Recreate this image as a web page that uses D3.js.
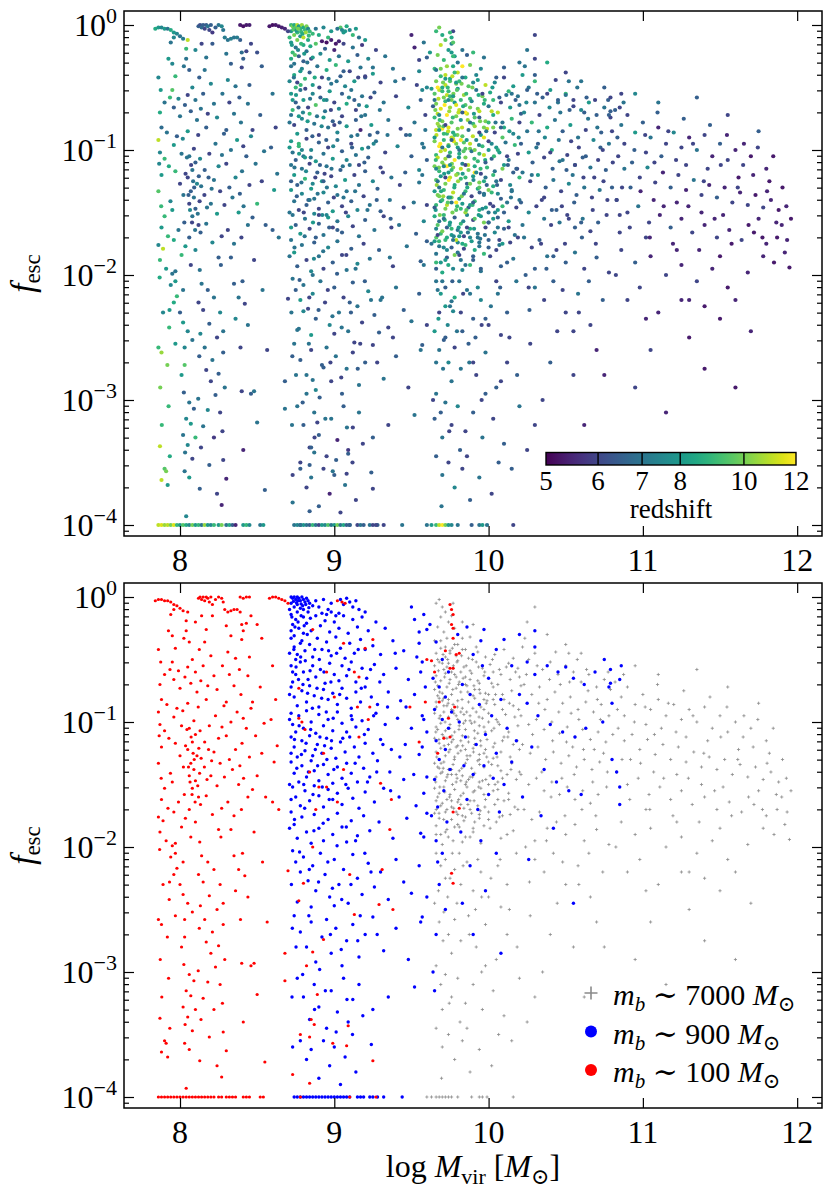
<!DOCTYPE html>
<html>
<head>
<meta charset="utf-8">
<script src="https://cdn.jsdelivr.net/npm/d3@7"></script>
<style>
  body { margin: 0; background: #fff; }
  svg text { font-family: "Liberation Serif", "DejaVu Serif", serif; fill: #000; }
</style>
</head>
<body>
<div id="chart"></div>
<script>
// Halo points: [log Mvir, log10 fesc, redshift]

// m_b ~ 100 Msun (red)
const highRes = [
  [7.84,-0.03,8.5],[7.86,-0.02,8],[7.88,-0.02,7.5],[7.9,-0.03,8],[7.92,-0.03,7],[7.94,-0.04,8.5],[7.96,-0.06,8],[7.98,-0.07,7.5],[8.0,-0.09,7],[8.02,-0.11,7.2],[7.96,-0.1,7.5],[8.05,-0.12,11],[8.04,-0.19,9],
  [8.12,-0.01,6.5],[8.13,0.0,6.2],[8.14,-0.02,6.8],[8.15,0.0,6.5],[8.16,-0.03,6],[8.17,0.0,6.4],[8.18,-0.01,7],[8.19,-0.04,6],[8.2,0.0,6.5],[8.21,-0.06,5.8],[8.23,-0.02,6.5],[8.25,0.0,7],[8.27,-0.01,7.5],[8.28,-0.04,7],
  [8.29,-0.1,7.2],[8.31,-0.12,7],[8.33,-0.11,7.3],[8.35,-0.1,7],[8.37,-0.1,7.2],[8.39,-0.12,6.5],
  [8.39,0.0,5.3],[8.41,-0.01,5.2],[8.43,0.0,5.3],[8.45,0.0,5.4],
  [8.58,-0.01,5.3],[8.6,0.0,5.2],[8.62,0.0,5.3],[8.64,-0.01,5.3],[8.66,-0.02,5.4],[8.68,-0.03,5.5],[8.7,-0.05,6],
  [8.46,-0.15,6],[8.5,-0.22,6.2],[8.53,-0.33,6.5],[8.4,-0.22,6.8],[8.41,-0.27,6.5],[8.4,-0.34,6],[8.21,-0.15,6.4],[8.1,-0.2,7.5],[8.17,-0.26,7],[7.94,-0.14,7],
  [7.86,-0.42,7.5],[7.87,-0.7,8.5],[7.9,-0.62,7],[7.88,-0.82,6.8],[7.86,-0.92,11],[7.87,-1.02,7.5],[7.9,-1.07,9],[7.88,-1.2,8],[7.86,-1.33,9.5],[7.9,-1.53,9],[7.88,-1.62,8],[7.86,-1.76,7.5],[7.89,-1.79,11],[7.87,-1.88,9],[7.91,-1.95,8],
  [7.95,-0.31,7.5],[7.97,-0.41,9],[7.95,-0.52,9.5],[7.99,-0.59,7.5],[7.96,-0.66,6.5],[8.0,-0.73,7],[7.98,-0.89,6.5],[7.96,-0.96,8],[8.01,-1.03,7],[7.97,-1.17,9],[8.0,-1.27,6],[7.95,-1.48,8],[7.99,-1.64,7],[7.96,-1.72,8.5],[8.01,-1.84,9],[7.97,-1.97,7],
  [8.04,-0.27,7],[8.06,-0.36,6.5],[8.08,-0.5,7.5],[8.05,-0.56,6],[8.1,-0.6,7],[8.07,-0.69,6.5],[8.11,-0.76,7],[8.05,-0.85,8],[8.09,-0.99,6],[8.06,-1.05,7],[8.1,-1.1,6.5],[8.08,-1.16,7],[8.05,-1.22,6],[8.11,-1.27,7.5],[8.07,-1.33,6.5],[8.09,-1.38,7],[8.06,-1.43,6],[8.1,-1.47,6.5],[8.08,-1.53,7],[8.12,-1.6,6],[8.06,-1.7,6.5],[8.1,-1.8,7.5],[8.07,-1.92,6],
  [8.14,-0.15,6],[8.16,-0.36,7],[8.2,-0.47,7.5],[8.15,-0.55,6.5],[8.22,-0.63,7],[8.18,-0.71,6],[8.24,-0.74,7.5],[8.17,-0.82,6.5],[8.23,-0.95,7],[8.19,-1.03,6],[8.25,-1.13,7.5],[8.16,-1.16,6.5],[8.22,-1.24,7],[8.26,-1.33,6],[8.2,-1.43,7],[8.24,-1.51,8],[8.17,-1.59,7],[8.27,-1.69,6],[8.21,-1.74,7.5],[8.25,-1.86,6.5],
  [8.3,-0.23,7],[8.33,-0.31,6.5],[8.31,-0.44,7.5],[8.36,-0.49,7],[8.32,-0.62,6],[8.35,-0.71,7],[8.3,-0.84,6.5],[8.37,-0.92,8],[8.33,-1.0,7],[8.3,-1.11,6],[8.36,-1.22,7.5],[8.32,-1.3,6.5],[8.34,-1.38,7],[8.38,-1.5,8],[8.31,-1.64,6],[8.35,-1.75,7],[8.33,-1.86,6.5],
  [8.43,-0.21,6],[8.45,-0.48,6.5],[8.44,-0.63,7],[8.47,-0.84,6],[8.46,-0.89,7.5],[8.43,-1.05,6.5],[8.49,-1.11,7],[8.45,-1.28,6],[8.5,-1.43,9],[8.47,-1.54,6.5],[8.44,-1.6,7],[8.48,-1.88,6],
  [8.6,-0.55,7],[8.62,-0.82,6],[8.59,-0.98,6.5],[8.63,-1.19,7],[8.61,-1.32,8],[8.6,-1.64,6.5],[8.64,-1.7,7],
  [7.89,-2.3,7.5],[7.86,-2.58,9],[7.88,-2.62,10.5],[7.87,-3.37,11],[7.9,-3.55,9.5],[7.91,-3.57,10],[7.88,-3.64,11],[7.92,-3.68,8],
  [7.95,-1.99,7],[7.97,-2.05,8],[7.94,-2.08,7.5],[7.98,-2.17,9],[7.96,-2.22,8.5],[7.93,-2.42,9],[7.97,-2.55,8],
  [8.0,-2.3,6.5],[8.02,-2.38,8],[8.05,-2.45,7.5],[8.08,-2.52,7],[8.03,-2.72,9.5],[8.01,-2.8,8],[8.06,-3.02,7],[8.09,-3.07,6.5],[8.04,-3.15,7.5],[8.07,-3.19,8],[8.02,-3.28,7],[8.1,-3.3,9],[8.05,-3.36,7.5],[8.08,-3.47,6],[8.03,-3.57,7],[8.06,-3.62,8],[8.04,-3.93,7.5],
  [8.14,-2.07,7],[8.18,-2.12,6.5],[8.22,-2.18,7],[8.15,-2.28,6],[8.26,-2.3,7.5],[8.19,-2.39,6.5],[8.24,-2.5,6],[8.16,-2.58,7],[8.28,-2.62,6.5],[8.21,-2.68,7],[8.17,-2.76,6],[8.25,-2.79,6.5],[8.2,-2.85,6],[8.29,-2.9,7],[8.23,-2.96,6.5],[8.18,-3.08,7.5],[8.26,-3.1,6],[8.15,-3.21,7],[8.22,-3.3,5.8],[8.28,-3.48,6],[8.19,-3.52,6.5],[8.3,-3.63,5.5],[8.24,-3.75,6],[8.27,-3.84,5.5],
  [8.35,-2.07,6.5],[8.38,-2.18,7],[8.42,-2.23,6],[8.36,-2.35,7.5],[8.44,-2.4,7],[8.4,-2.93,6],[8.46,-2.95,6.5],[8.5,-3.18,7],[8.55,-3.72,6.5],[8.48,-2.93,7],[8.68,-2.85,6.5],[8.68,-3.07,7],[8.7,-2.19,6],
  [7.925,-0.27,8],[7.935,-0.58,9],[7.915,-0.86,7],[7.928,-1.13,8.5],[7.938,-1.41,7.5],[7.922,-1.69,9],[7.932,-2.28,8],[7.918,-2.72,10],[7.926,-3.05,9],[7.934,-3.45,8.5],
  [8.025,-0.33,7],[8.032,-0.64,6.5],[8.018,-0.91,7.5],[8.036,-1.19,6],[8.022,-1.36,7],[8.028,-1.58,6.5],[8.035,-1.77,8],[8.02,-2.12,7],[8.03,-2.58,7.5],[8.025,-2.94,6.5],[8.033,-3.42,7],
  [8.125,-0.42,6.5],[8.135,-0.67,7],[8.118,-0.88,6],[8.13,-1.07,7.5],[8.122,-1.21,6.5],[8.137,-1.29,7],[8.127,-1.41,6],[8.115,-1.51,7],[8.133,-1.66,6.5],[8.128,-1.96,7],[8.12,-2.22,6],[8.132,-2.47,7.5],[8.125,-2.65,6.5],[8.118,-2.99,7],[8.136,-3.38,6],[8.128,-3.71,6.5],
  [8.072,-1.12,6],[8.085,-1.25,7],[8.092,-1.3,6.5],[8.065,-1.48,7.5],[8.078,-1.58,6],[8.098,-1.64,7],[8.055,-1.36,6.5],[8.045,-1.06,7],[8.158,-1.36,6],[8.175,-1.46,7],[8.185,-1.22,6.5],[8.205,-1.31,7],
  [8.275,-0.55,7],[8.285,-0.87,6.5],[8.272,-1.04,7],[8.288,-1.44,6],[8.265,-1.92,6.5],[8.28,-2.45,7],[8.275,-3.25,6],
  [8.385,-0.58,6.5],[8.395,-0.78,7],[8.41,-0.97,6],[8.402,-1.17,7],[8.388,-1.35,6.5],[8.412,-1.45,7],[8.398,-1.7,6],[8.405,-2.05,6.5],[8.392,-2.58,6],[8.41,-3.4,5.5],
  [8.52,-0.72,6.5],[8.545,-1.01,7],[8.53,-1.25,6],[8.555,-1.6,6.5],[8.535,-2.12,7],[8.565,-2.6,6],
  [7.875,-0.52,8],[7.865,-1.11,7.5],[7.878,-1.45,9],[7.868,-2.02,8.5],[7.872,-2.9,10],[7.882,-3.2,9],
  [7.86,-4,11],[7.88,-4,11.5],[7.9,-4,10.5],[7.92,-4,11],[7.94,-4,10],[7.96,-4,11.5],[7.98,-4,9],[8.0,-4,8],[8.02,-4,9.5],[8.04,-4,8.5],[8.06,-4,7.5],[8.08,-4,10],[8.1,-4,8],[8.12,-4,9],[8.14,-4,7],[8.16,-4,10.5],[8.18,-4,8],[8.2,-4,7.5],[8.22,-4,9],[8.25,-4,8],[8.27,-4,10],[8.3,-4,7],[8.32,-4,8.5],[8.34,-4,6.5],[8.36,-4,5.5],[8.41,-4,8],[8.43,-4,9],[8.45,-4,7.5],[8.52,-4,7],[8.54,-4,8],
  [8.86,-0.26,8],[9.02,-0.03,7],[9.05,-0.04,7.5],[9.07,-0.05,8],[9.06,-0.37,6.5],[9.25,-0.34,7],[9.2,-0.41,6],[8.95,-0.6,7.5],[9.13,-0.6,6.5],[9.16,-0.64,7],[8.77,-0.73,8],[9.0,-0.8,6],[9.15,-0.88,7],[9.23,-0.88,6.5],[8.77,-0.97,9],[8.79,-1.0,7.5],[8.81,-1.06,8],[8.93,-1.25,6.5],[8.84,-1.4,7],[8.9,-1.52,6],[8.95,-1.52,7.5],[9.02,-1.64,6.5],[9.06,-1.38,7],[9.16,-1.12,6],[9.22,-0.98,7],[9.3,-1.49,6.5],[9.37,-1.62,6],[9.36,-1.86,7],[8.88,-1.7,6.5],[9.49,-0.88,7],
  [8.86,-2.0,7],[9.1,-2.22,6.5],[8.8,-2.29,7.5],[8.77,-2.43,7],[9.13,-2.54,6],[9.29,-2.46,6.5],[9.31,-2.18,7],[9.38,-2.5,6],[8.86,-2.84,7],[8.93,-2.74,6.5],[8.82,-2.95,7],[8.89,-3.18,6],[8.85,-3.38,6.5],[8.87,-3.42,7],[8.78,-3.5,6],[8.84,-3.52,6.5],[8.99,-3.57,7],[9.08,-3.59,6],[9.09,-3.43,6.5],[9.25,-3.71,6],[8.73,-3.82,7],[8.84,-3.89,6.5],[8.78,-4,7],[9.1,-4,6.5],[9.27,-4,6],
  [9.75,-0.06,9],[9.76,-0.1,8.5],[9.77,-0.14,9.5],[9.76,-0.22,8],[9.77,-0.25,9],[9.77,-0.33,8.5],[9.79,-0.46,8],[9.81,-0.45,9],[9.72,-0.43,8],[9.6,-0.5,7.5],[9.63,-0.51,8],[9.65,-0.6,7],[9.75,-0.57,9],[9.77,-0.57,8],[9.59,-0.84,7],[9.68,-0.84,8],[9.78,-0.88,9],[9.74,-0.97,8],[9.71,-1.13,7.5],[9.75,-1.12,8],[9.67,-1.25,7],[9.55,-1.16,7.5],[9.77,-1.72,7],[9.81,-1.69,8],[9.76,-2.21,7],[9.77,-2.29,7.5]
];

// m_b ~ 900 Msun (blue)
const midRes = [
  [8.72,0.0,9],[8.73,-0.01,10],[8.74,0.0,8.5],[8.75,-0.02,9.5],[8.76,0.0,11],[8.77,-0.01,8],[8.78,-0.03,9],[8.79,0.0,10.5],[8.8,-0.02,8.5],[8.81,-0.04,9],[8.82,-0.01,10],[8.83,-0.03,7.5],[8.84,-0.05,9],[8.72,-0.05,8],[8.74,-0.08,10],[8.76,-0.06,9],[8.78,-0.09,8],[8.8,-0.1,11],[8.83,-0.12,8.5],[8.86,-0.07,9],[8.88,-0.03,7],[8.9,-0.08,8.5],[8.93,-0.02,7.5],[8.96,-0.1,9],[8.98,-0.05,8],[9.04,-0.02,9.5],[9.06,-0.06,8],[9.08,-0.01,8.5],[9.1,-0.04,7.5],[9.12,-0.08,9],[9.14,-0.03,8],[9.16,-0.1,7],[9.2,-0.12,8],
  [8.92,-0.13,5.3],[8.95,-0.14,5.2],[8.98,-0.12,5.4],[9.01,-0.15,5.3],[9.03,-0.13,5.5],
  [8.71,-0.1,9],[8.72,-0.27,8.5],[8.74,-0.31,7],[8.76,-0.12,10],[8.78,-0.37,8],[8.8,-0.29,6.5],[8.71,-0.45,7.5],[8.73,-0.6,8],[8.75,-0.5,9],[8.71,-0.78,7],[8.71,-0.98,8],[8.72,-1.25,6.5],[8.71,-1.5,7],[8.72,-1.62,8],[8.71,-1.85,7],
  [8.72,-0.14,8],[8.75,-0.18,7],[8.73,-0.22,9],[8.77,-0.25,6.5],[8.8,-0.16,8.5],[8.82,-0.21,7],[8.85,-0.27,6],[8.88,-0.15,9.5],[8.91,-0.23,7.5],[8.94,-0.19,6.5],[8.97,-0.28,8],[9.0,-0.2,5.5],[9.03,-0.25,7],[9.06,-0.15,6],[9.09,-0.29,8],[9.12,-0.18,7],[9.15,-0.24,6.5],[9.18,-0.16,5.8],[9.22,-0.27,7.5],[9.27,-0.2,6],[9.33,-0.25,7],[9.5,-0.08,5.5],[9.52,-0.18,5.5],[9.55,-0.28,6],
  [8.72,-0.33,7],[8.74,-0.4,8.5],[8.76,-0.46,6],[8.79,-0.35,7.5],[8.81,-0.43,9],[8.84,-0.38,6.5],[8.86,-0.48,8],[8.89,-0.33,7],[8.92,-0.42,6],[8.95,-0.36,8.5],[8.98,-0.47,7],[9.01,-0.32,9],[9.04,-0.41,6.5],[9.07,-0.49,7.5],[9.1,-0.37,6],[9.13,-0.45,8],[9.17,-0.34,7],[9.2,-0.42,6.5],[9.25,-0.39,8],[9.3,-0.46,6],[9.38,-0.35,7],[9.45,-0.43,6.5],[9.55,-0.37,7.5],
  [8.72,-0.55,8],[8.75,-0.62,6.5],[8.73,-0.68,9],[8.78,-0.52,7],[8.8,-0.6,8],[8.83,-0.66,6],[8.86,-0.55,7.5],[8.88,-0.64,9.5],[8.91,-0.58,6.5],[8.94,-0.69,7],[8.97,-0.53,8],[9.0,-0.62,6],[9.03,-0.67,7.5],[9.05,-0.55,6.5],[9.08,-0.63,8.5],[9.11,-0.52,7],[9.14,-0.68,6],[9.18,-0.57,7],[9.21,-0.65,8],[9.26,-0.54,6.5],[9.32,-0.62,7],[9.4,-0.57,6],[9.48,-0.66,7.5],[9.56,-0.6,6.5],
  [8.72,-0.72,7],[8.74,-0.8,6],[8.76,-0.87,8],[8.79,-0.75,7.5],[8.82,-0.84,6.5],[8.84,-0.71,9],[8.87,-0.79,7],[8.9,-0.88,6],[8.93,-0.74,8],[8.96,-0.82,7],[8.99,-0.77,6.5],[9.02,-0.86,7.5],[9.05,-0.73,6],[9.08,-0.81,8],[9.11,-0.89,7],[9.14,-0.76,6.5],[9.17,-0.84,5.5],[9.2,-0.72,7],[9.24,-0.8,8],[9.28,-0.86,6.5],[9.35,-0.76,7],[9.43,-0.83,6],[9.52,-0.78,7],
  [8.72,-0.93,8],[8.73,-1.02,7],[8.75,-1.08,6.5],[8.77,-0.95,9],[8.8,-1.05,7],[8.82,-0.91,6],[8.85,-1.0,7.5],[8.88,-1.09,8],[8.9,-0.94,6.5],[8.93,-1.03,7],[8.96,-0.98,6],[8.99,-1.07,8],[9.02,-0.92,7],[9.05,-1.01,6.5],[9.08,-1.08,7.5],[9.11,-0.95,6],[9.14,-1.04,7],[9.18,-0.99,8],[9.22,-1.06,6.5],[9.27,-0.93,7],[9.33,-1.02,6],[9.41,-0.97,7.5],[9.5,-1.05,6.5],[9.57,-0.95,7],
  [8.72,-1.12,7],[8.74,-1.2,8],[8.76,-1.28,6.5],[8.79,-1.15,7],[8.81,-1.23,9],[8.84,-1.11,6],[8.86,-1.27,7.5],[8.89,-1.18,6.5],[8.92,-1.25,8],[8.95,-1.13,7],[8.98,-1.21,6],[9.01,-1.29,7.5],[9.04,-1.16,6.5],[9.07,-1.24,8],[9.1,-1.12,7],[9.13,-1.2,6],[9.16,-1.28,7],[9.2,-1.17,6.5],[9.25,-1.25,7.5],[9.3,-1.14,6],[9.37,-1.22,7],[9.46,-1.18,6.5],[9.55,-1.26,7],
  [8.72,-1.32,8],[8.74,-1.41,7],[8.77,-1.48,6],[8.79,-1.35,7.5],[8.82,-1.44,6.5],[8.85,-1.31,8],[8.87,-1.39,7],[8.9,-1.47,6],[8.93,-1.34,7.5],[8.96,-1.42,6.5],[8.99,-1.49,8],[9.02,-1.36,7],[9.05,-1.45,6],[9.08,-1.33,7],[9.11,-1.41,6.5],[9.15,-1.48,7.5],[9.19,-1.37,6],[9.23,-1.44,7],[9.28,-1.31,6.5],[9.36,-1.4,7],[9.45,-1.46,6],
  [8.73,-1.52,7],[8.75,-1.6,6.5],[8.78,-1.67,8],[8.81,-1.55,7],[8.84,-1.63,6],[8.87,-1.51,7.5],[8.9,-1.59,6.5],[8.93,-1.68,7],[8.96,-1.54,8],[8.99,-1.62,6],[9.02,-1.57,7],[9.05,-1.66,6.5],[9.09,-1.53,7.5],[9.12,-1.61,6],[9.16,-1.69,7],[9.2,-1.56,6.5],[9.26,-1.64,7],[9.32,-1.53,6],[9.42,-1.6,7],[9.53,-1.67,6.5],
  [8.72,-1.72,7],[8.74,-1.82,8],[8.76,-1.93,6.5],[8.79,-1.76,7],[8.82,-1.88,6],[8.85,-1.97,7.5],[8.87,-1.74,6.5],[8.9,-1.85,7],[8.93,-1.95,6],[8.96,-1.78,7.5],[8.99,-1.9,6.5],[9.02,-1.73,7],[9.05,-1.84,6],[9.08,-1.96,7],[9.11,-1.79,6.5],[9.15,-1.91,7.5],[9.19,-1.75,6],[9.23,-1.87,7],[9.29,-1.8,6.5],[9.38,-1.93,6],[9.47,-1.77,7],[9.56,-1.89,6.5],
  [8.73,-2.03,7],[8.75,-2.12,6.5],[8.78,-2.2,8],[8.8,-2.08,7],[8.83,-2.27,6],[8.86,-2.15,7.5],[8.88,-2.35,6.5],[8.91,-2.05,7],[8.94,-2.22,6],[8.97,-2.4,7.5],[9.0,-2.1,6.5],[9.03,-2.3,7],[9.06,-2.18,6],[9.09,-2.45,7],[9.12,-2.06,6.5],[9.15,-2.25,7],[9.18,-2.38,6],[9.22,-2.13,7.5],[9.26,-2.32,6.5],[9.3,-2.2,7],[9.35,-2.42,6],[9.4,-2.1,7],[9.45,-2.28,6.5],[9.5,-2.37,7],[9.55,-2.15,6.5],[8.76,-2.44,7],[8.85,-2.48,8],[9.0,-2.47,6],
  [8.74,-2.55,7],[8.78,-2.68,6.5],[8.82,-2.8,7],[8.85,-2.6,6],[8.88,-2.92,7.5],[8.92,-2.72,6.5],[8.95,-2.58,7],[8.98,-2.85,6],[9.01,-2.65,7],[9.05,-2.95,6.5],[9.08,-2.75,7],[9.12,-2.62,6],[9.16,-2.88,7],[9.2,-2.7,6.5],[9.25,-2.56,6],[9.32,-2.83,7],[9.4,-2.65,6.5],[9.48,-2.9,6],[9.56,-2.6,7],
  [8.76,-3.05,7],[8.8,-3.2,6.5],[8.84,-3.38,6],[8.87,-3.1,7],[8.9,-3.28,6.5],[8.95,-3.45,6],[8.98,-3.15,7],[9.02,-3.32,5.5],[9.06,-3.05,6.5],[9.09,-3.4,5.8],[9.12,-3.22,6],[9.16,-3.1,7],[9.25,-3.3,6.5],[9.35,-3.2,6],[9.52,-3.12,7],
  [8.78,-3.55,6.5],[8.82,-3.7,6],[8.85,-3.62,7],[8.9,-3.85,6.5],[8.93,-3.55,6],[8.97,-3.75,5.5],[9.0,-3.6,6.5],[9.04,-3.9,6],[9.07,-3.68,7],[9.14,-3.8,6],[9.24,-3.58,6.5],
  [8.735,-0.035,9.5],[8.755,-0.045,8],[8.765,-0.03,10],[8.785,-0.055,9],[8.795,-0.07,8.5],[8.815,-0.06,10.5],[8.835,-0.085,9],[8.725,-0.16,8],[8.745,-0.24,9.5],[8.765,-0.2,7.5],[8.785,-0.15,9],[8.805,-0.23,8],[8.825,-0.3,7],[8.845,-0.17,8.5],
  [8.738,-0.42,7],[8.752,-0.56,8],[8.768,-0.66,6.5],[8.782,-0.48,9],[8.797,-0.7,7.5],[8.812,-0.51,6],[8.827,-0.77,8],[8.843,-0.59,7],[8.858,-0.89,6.5],[8.873,-0.42,8.5],[8.888,-0.73,7],[8.903,-0.5,6],[8.918,-0.81,7.5],[8.933,-0.6,8],[8.948,-0.92,6.5],[8.963,-0.43,7],[8.978,-0.68,6],[8.993,-0.97,7.5],
  [8.742,-1.14,7],[8.757,-1.37,6.5],[8.772,-1.03,8],[8.787,-1.26,7],[8.802,-1.5,6],[8.817,-1.17,7.5],[8.832,-1.4,6.5],[8.847,-1.06,7],[8.862,-1.58,8],[8.877,-1.22,6],[8.892,-1.35,7],[8.907,-1.12,6.5],[8.922,-1.52,7.5],[8.937,-1.19,6],[8.952,-1.3,7],[8.967,-1.62,6.5],[8.982,-1.15,7],[8.997,-1.38,6],
  [9.015,-0.45,7],[9.035,-0.78,6.5],[9.055,-1.13,7],[9.075,-1.5,6],[9.095,-0.58,7.5],[9.115,-0.98,6.5],[9.135,-1.33,7],[9.155,-0.42,6],[9.175,-0.73,7],[9.195,-1.1,6.5],[9.215,-1.48,7],[9.235,-0.58,6],[9.255,-0.95,7.5],[9.275,-1.4,6.5],[9.295,-0.68,7],[9.315,-1.18,6],[9.345,-0.88,7],[9.365,-1.55,6.5],[9.395,-0.45,7],[9.425,-1.28,6],[9.465,-0.88,6.5],[9.515,-1.42,7],[9.535,-0.48,6],
  [8.742,-1.78,7],[8.775,-2.04,6.5],[8.808,-1.69,7],[8.838,-2.18,6],[8.868,-1.87,7.5],[8.898,-2.28,6.5],[8.928,-1.81,7],[8.958,-2.12,6],[8.988,-2.33,7],[9.018,-1.99,6.5],[9.048,-2.42,7],[9.078,-1.84,6],[9.108,-2.3,6.5],[9.138,-1.95,7],[9.168,-2.55,6],[9.198,-2.05,6.5],[9.238,-2.2,7],[9.278,-2.7,6],
  [8.752,-2.8,7],[8.795,-3.02,6.5],[8.835,-2.55,7],[8.872,-3.3,6],[8.905,-2.98,6.5],[8.942,-3.15,7],[8.975,-2.7,6],[9.012,-3.48,6.5],[9.045,-2.82,6],[9.082,-3.22,7],[9.118,-3.5,6],[9.152,-2.75,6.5],[9.185,-3.35,6],
  [8.722,-2.3,7],[8.728,-2.65,6.5],[8.726,-3.2,7],[8.73,-3.6,6],
  [8.74,-4,7],[8.76,-4,7.5],[8.78,-4,6.5],[8.8,-4,8],[8.82,-4,7],[8.84,-4,6.5],[8.86,-4,9],[8.88,-4,7],[8.9,-4,6],[8.92,-4,8],[8.94,-4,7.5],[8.96,-4,9.5],[8.98,-4,7],[9.0,-4,8],[9.02,-4,10],[9.04,-4,7],[9.06,-4,8.5],[9.08,-4,6.5],[9.1,-4,7],[9.15,-4,6],[9.17,-4,7],[9.19,-4,6.5],[9.23,-4,7],[9.25,-4,6],[9.28,-4,6.5],[9.32,-4,6],[9.44,-4,7],
  [9.58,-0.14,7],[9.6,-0.26,6.5],[9.57,-0.52,7.5],[9.59,-0.72,6],[9.58,-0.98,7],[9.6,-1.08,6.5],[9.57,-1.2,7],[9.6,-1.44,6],[9.58,-1.57,7.5],[9.6,-1.73,6.5],[9.58,-1.92,7],[9.6,-2.4,6],[9.57,-2.56,6.5],
  [9.62,-0.22,8],[9.66,-0.36,7],[9.7,-0.5,8.5],[9.64,-0.65,6.5],[9.68,-0.72,7.5],[9.72,-0.8,6],[9.65,-0.9,8],[9.7,-0.98,7],[9.74,-1.05,6.5],[9.66,-1.15,7.5],[9.72,-1.22,6],[9.68,-1.3,7],[9.75,-1.38,8],[9.65,-1.46,6.5],[9.71,-1.55,7],[9.67,-1.68,6],[9.73,-1.8,7.5],[9.66,-1.95,6.5],[9.7,-2.05,7],[9.68,-2.3,6],[9.72,-2.5,6.5],[9.66,-2.7,7],[9.64,-3.0,6],[9.65,-3.15,6.5],[9.67,-2.12,7],[9.74,-0.6,7.5],[9.76,-0.92,6.5],[9.63,-1.75,7],
  [9.8,-0.3,7],[9.86,-0.24,6.5],[9.9,-0.46,7.5],[9.96,-0.55,6],[10.0,-0.65,7],[9.83,-0.7,6.5],[9.88,-0.78,7],[9.94,-0.86,6],[10.02,-0.95,7.5],[10.08,-0.82,6.5],[9.81,-1.0,7],[9.85,-1.12,6],[9.92,-1.18,7.5],[9.98,-1.1,6.5],[10.05,-1.25,7],[10.12,-1.05,6],[9.84,-1.35,7],[9.9,-1.42,6.5],[9.97,-1.35,7],[10.03,-1.45,6],[10.1,-1.5,6.5],[10.15,-1.32,7],[9.86,-1.62,6],[9.93,-1.7,7],[10.0,-1.58,6.5],[10.07,-1.72,6],[9.82,-1.88,7],[9.95,-1.95,6.5],[10.05,-2.05,6],[9.88,-2.15,7],[9.83,-2.45,6.5],[9.9,-2.7,6],[9.98,-2.35,6.5],[10.08,-2.85,6],[10.15,-0.55,7],[10.18,-1.15,6.5],[10.2,-0.78,6],[9.95,-0.35,7.5],[10.05,-0.42,6.5],[10.3,-0.27,6],[9.97,-0.26,7],[10.1,-0.34,6.5],
  [10.25,-0.52,6.5],[10.3,-0.62,7],[10.38,-0.55,6],[10.45,-0.6,6.5],[10.5,-0.56,7],[10.55,-0.65,6],[10.62,-0.7,6.5],[10.69,-0.6,6],[10.78,-0.72,6.5],[10.8,-0.85,6],[10.25,-0.85,7],[10.32,-0.95,6.5],[10.4,-1.02,6],[10.48,-1.08,7],[10.56,-1.12,6],[10.63,-1.05,6.5],[10.74,-1.0,6],[10.8,-1.3,6.5],[10.85,-1.52,6],[10.83,-1.4,6],[10.28,-1.2,7],[10.36,-1.38,6],[10.44,-1.48,6.5],[10.52,-1.55,6],[10.6,-1.58,6.5],[10.34,-1.75,6],[10.42,-1.85,6.5],[10.22,-1.6,7],[10.26,-2.1,6],[10.55,-2.45,6],[10.3,-0.4,6.5],[10.2,-0.3,7],[10.85,-0.66,6],[10.75,-0.5,6.5],[10.79,-0.58,6],[10.79,-0.69,6.5],[10.86,-0.55,6],[10.85,-1.66,6]
];

// m_b ~ 7000 Msun (grey)
const lowRes = [
  [9.66,-0.05,9],[9.68,-0.02,10],[9.7,-0.08,8.5],[9.72,-0.12,9.5],[9.69,-0.16,11],[9.74,-0.2,8],[9.67,-0.24,10],[9.71,-0.28,9],[9.76,-0.15,7.5],[9.73,-0.33,10.5],[9.78,-0.25,8],[9.65,-0.35,9],[9.8,-0.38,11],[9.83,-0.2,7],[9.77,-0.05,6],[9.75,-0.45,9.5],[9.85,-0.42,8.5],[9.88,-0.32,10],[9.92,-0.4,7.5],[9.9,-0.22,9],
  [9.66,-0.45,10],[9.69,-0.41,9],[9.72,-0.48,11],[9.75,-0.43,8.5],[9.79,-0.47,10],[9.83,-0.42,7],[9.87,-0.49,9.5],[9.93,-0.44,8],[9.98,-0.48,11],[10.04,-0.46,7.5],[10.1,-0.42,6],[10.16,-0.49,8],
  [9.65,-0.55,9.5],[9.68,-0.52,11],[9.71,-0.58,10],[9.74,-0.53,9],[9.77,-0.57,12],[9.8,-0.51,8],[9.84,-0.56,10.5],[9.88,-0.59,9],[9.92,-0.52,7],[9.96,-0.57,10],[10.01,-0.54,8.5],[10.07,-0.58,6.5],[10.13,-0.53,9],[10.19,-0.57,7],
  [9.66,-0.63,10],[9.69,-0.67,11.5],[9.72,-0.61,9],[9.75,-0.66,10.5],[9.78,-0.62,8],[9.81,-0.68,11],[9.85,-0.64,9.5],[9.89,-0.61,7.5],[9.93,-0.67,10],[9.97,-0.63,8.5],[10.02,-0.69,11],[10.08,-0.62,6],[10.14,-0.66,8],[10.2,-0.64,7],
  [9.65,-0.74,9],[9.67,-0.71,11],[9.7,-0.77,10],[9.73,-0.72,12],[9.76,-0.78,9.5],[9.79,-0.73,10],[9.82,-0.76,8],[9.86,-0.71,11],[9.9,-0.79,9],[9.94,-0.74,6.5],[9.98,-0.77,10],[10.03,-0.72,8.5],[10.09,-0.78,7],[10.15,-0.75,9],[10.21,-0.71,6.5],
  [9.66,-0.84,11],[9.68,-0.81,10],[9.71,-0.87,9],[9.74,-0.82,11.5],[9.77,-0.86,8.5],[9.8,-0.83,10],[9.83,-0.89,9.5],[9.87,-0.84,7],[9.91,-0.81,10.5],[9.95,-0.88,8],[9.99,-0.83,11],[10.04,-0.86,6],[10.1,-0.82,8.5],[10.16,-0.87,7.5],
  [9.65,-0.93,10],[9.68,-0.97,12],[9.71,-0.92,9],[9.74,-0.96,10],[9.77,-0.91,11],[9.8,-0.98,8],[9.84,-0.94,9.5],[9.88,-0.99,10],[9.92,-0.92,7.5],[9.96,-0.97,9],[10.0,-0.93,6],[10.05,-0.98,8],[10.11,-0.94,7],[10.17,-0.96,9],
  [9.66,-1.04,9],[9.69,-1.01,11],[9.72,-1.07,10.5],[9.75,-1.02,9],[9.78,-1.08,12],[9.81,-1.03,8.5],[9.85,-1.06,10],[9.89,-1.01,7],[9.93,-1.09,9],[9.97,-1.04,11],[10.02,-1.07,6.5],[10.07,-1.02,8],[10.13,-1.08,7],[10.19,-1.03,6],
  [9.65,-1.13,10],[9.68,-1.17,9],[9.71,-1.12,11],[9.74,-1.18,8],[9.77,-1.14,10],[9.8,-1.19,9.5],[9.83,-1.11,7.5],[9.87,-1.16,10],[9.91,-1.13,8.5],[9.95,-1.19,6],[9.99,-1.14,9],[10.04,-1.17,7],[10.1,-1.12,8],[10.16,-1.18,6.5],
  [9.66,-1.24,9.5],[9.69,-1.21,8],[9.72,-1.27,10],[9.75,-1.22,11],[9.78,-1.28,8.5],[9.82,-1.23,9],[9.86,-1.27,6.5],[9.9,-1.21,8],[9.94,-1.26,10],[9.98,-1.22,7],[10.03,-1.29,8.5],[10.08,-1.24,6],[10.14,-1.28,7.5],[10.2,-1.22,9],
  [9.65,-1.33,8],[9.68,-1.37,10],[9.71,-1.32,9],[9.74,-1.38,7.5],[9.77,-1.34,11],[9.81,-1.39,8],[9.85,-1.33,9],[9.89,-1.37,6],[9.93,-1.31,8.5],[9.97,-1.36,7],[10.02,-1.34,9],[10.08,-1.39,6.5],[10.15,-1.33,7],
  [9.66,-1.44,9],[9.69,-1.41,8],[9.72,-1.47,10],[9.76,-1.42,7],[9.79,-1.48,9.5],[9.83,-1.43,8],[9.87,-1.46,6.5],[9.91,-1.41,9],[9.96,-1.47,7.5],[10.01,-1.43,6],[10.06,-1.48,8],[10.12,-1.42,7],[10.18,-1.46,6],
  [9.65,-1.53,8.5],[9.68,-1.57,7],[9.71,-1.52,9],[9.75,-1.58,8],[9.78,-1.54,6.5],[9.82,-1.59,9],[9.86,-1.52,7.5],[9.9,-1.56,6],[9.95,-1.53,8],[10.0,-1.58,7],[10.06,-1.54,6.5],[10.13,-1.57,8],
  [9.66,-1.63,7.5],[9.69,-1.67,9],[9.73,-1.62,6.5],[9.76,-1.68,8],[9.8,-1.64,7],[9.84,-1.69,6],[9.88,-1.63,8.5],[9.93,-1.67,7],[9.98,-1.62,6],[10.04,-1.66,7.5],[10.1,-1.63,6.5],[10.17,-1.68,7],
  [9.65,-1.73,8],[9.68,-1.77,7],[9.72,-1.72,9],[9.76,-1.78,6.5],[9.8,-1.74,7.5],[9.84,-1.79,6],[9.89,-1.73,8],[9.94,-1.77,7],[10.0,-1.72,6.5],[10.07,-1.76,7],[10.14,-1.74,6],
  [9.66,-1.83,7],[9.69,-1.9,8],[9.73,-1.86,6.5],[9.77,-1.95,7.5],[9.81,-1.84,6],[9.85,-1.92,7],[9.9,-1.88,6.5],[9.95,-1.97,7],[10.01,-1.85,6],[10.08,-1.93,6.5],[10.16,-1.87,7],[9.7,-1.98,8.5],
  [9.67,-0.5,12],[9.7,-0.53,9],[9.73,-0.56,11],[9.76,-0.6,10],[9.79,-0.64,11.5],[9.82,-0.6,9],[9.85,-0.7,12],[9.88,-0.66,10],[9.91,-0.74,9.5],[9.94,-0.69,11],[9.97,-0.82,10],[10.0,-0.78,9],
  [9.67,-0.79,10.5],[9.7,-0.83,12],[9.73,-0.87,9],[9.76,-0.9,11],[9.79,-0.95,10],[9.82,-0.92,12],[9.85,-0.99,9.5],[9.88,-0.95,11],[9.91,-1.0,10],[9.94,-1.03,9],[9.97,-0.9,11.5],[10.0,-1.0,8],
  [9.67,-1.06,11],[9.7,-1.1,10],[9.73,-1.13,12],[9.76,-1.16,9],[9.79,-1.2,10.5],[9.82,-1.15,11],[9.85,-1.22,9],[9.88,-1.27,10],[9.91,-1.18,12],[9.94,-1.3,9.5],[9.97,-1.25,8.5],[10.0,-1.32,10],
  [9.67,-1.36,10],[9.7,-1.4,9],[9.73,-1.44,11],[9.76,-1.38,10],[9.79,-1.42,12],[9.82,-1.47,9],[9.85,-1.5,10.5],[9.88,-1.44,8],[9.91,-1.55,9.5],[9.94,-1.48,8.5],[9.97,-1.58,10],[10.0,-1.5,7],
  [9.67,-1.6,9.5],[9.7,-1.65,10],[9.73,-1.7,8.5],[9.76,-1.63,9],[9.79,-1.72,11],[9.82,-1.66,8],[9.85,-1.76,9],[9.88,-1.7,7.5],[9.91,-1.8,8.5],[9.94,-1.74,7],[9.97,-1.83,9],[10.0,-1.78,6.5],
  [10.03,-0.6,9],[10.06,-0.7,11],[10.09,-0.9,9.5],[10.03,-0.82,10],[10.06,-1.0,8.5],[10.09,-1.15,10],[10.03,-1.2,9],[10.06,-1.35,7.5],[10.09,-1.45,9],[10.03,-1.55,8],[10.06,-1.62,7],[10.09,-1.75,8],
  [9.69,-0.35,10],[9.72,-0.4,11],[9.78,-0.38,9],[9.83,-0.33,12],[9.66,-1.9,9],[9.72,-1.88,8],[9.78,-1.84,10],[9.83,-1.96,7.5],[9.88,-1.92,9],
  [9.655,-0.68,10],[9.662,-0.88,11],[9.658,-1.08,9],[9.664,-1.28,10.5],[9.657,-1.48,8],[9.661,-1.7,9.5],[9.675,-0.59,11],[9.683,-0.76,9],[9.687,-0.95,12],[9.678,-1.14,10],[9.692,-1.33,8.5],[9.684,-1.52,10],[9.679,-1.73,9],
  [9.705,-0.46,10],[9.715,-0.64,12],[9.708,-0.81,9.5],[9.718,-1.0,11],[9.712,-1.19,8],[9.706,-1.37,10.5],[9.716,-1.56,9],[9.709,-1.78,7.5],
  [9.735,-0.5,9],[9.745,-0.69,10.5],[9.738,-0.85,11],[9.748,-1.05,9],[9.742,-1.24,12],[9.736,-1.42,9.5],[9.747,-1.6,8],[9.739,-1.92,8.5],
  [9.765,-0.41,11],[9.772,-0.55,10],[9.768,-0.74,9],[9.775,-0.93,11.5],[9.762,-1.11,10],[9.778,-1.3,8.5],[9.766,-1.5,10],[9.774,-1.69,7.5],
  [9.795,-0.52,9.5],[9.805,-0.7,11],[9.798,-0.88,10],[9.808,-1.06,8],[9.802,-1.25,10.5],[9.796,-1.45,9],[9.806,-1.62,8],[9.8,-1.82,7],
  [9.825,-0.47,10],[9.835,-0.65,8.5],[9.828,-0.82,11],[9.838,-1.01,9.5],[9.832,-1.19,8],[9.826,-1.37,10],[9.836,-1.57,7.5],[9.83,-1.75,8.5],
  [9.855,-0.55,9],[9.865,-0.76,10.5],[9.858,-0.92,8],[9.868,-1.12,11],[9.862,-1.3,8.5],[9.856,-1.48,9.5],[9.866,-1.66,7],
  [9.895,-0.5,10],[9.905,-0.71,8],[9.898,-0.89,11],[9.908,-1.07,9],[9.902,-1.24,7.5],[9.896,-1.44,9],[9.906,-1.63,8],[9.9,-1.85,6.5],
  [9.935,-0.56,8.5],[9.945,-0.77,10],[9.938,-0.96,7.5],[9.948,-1.15,9],[9.942,-1.34,6.5],[9.936,-1.52,8],[9.946,-1.71,7],
  [9.975,-0.6,9],[9.985,-0.85,7],[9.978,-1.08,8.5],[9.988,-1.28,6.5],[9.982,-1.46,8],[9.976,-1.68,7],
  [10.025,-0.5,8],[10.045,-0.78,7],[10.035,-1.05,9],[10.055,-1.28,6.5],[10.042,-1.5,7.5],[10.05,-1.8,6],
  [10.115,-0.56,7],[10.135,-0.85,8],[10.125,-1.12,6.5],[10.145,-1.38,7],[10.13,-1.62,6],[10.12,-1.9,6.5],
  [10.175,-0.6,6.5],[10.195,-0.9,7.5],[10.185,-1.15,6],[10.2,-1.4,7],[10.19,-1.7,6],
  [10.22,-0.4,8],[10.26,-0.5,7],[10.3,-0.45,9],[10.35,-0.58,6.5],[10.4,-0.52,8],[10.45,-0.62,7],[10.5,-0.55,9],[10.55,-0.6,6],[10.6,-0.68,7.5],[10.65,-0.62,8],[10.7,-0.72,6.5],[10.75,-0.66,7],[10.79,-0.74,6],
  [10.23,-0.7,7.5],[10.28,-0.78,9],[10.33,-0.72,6],[10.38,-0.82,8.5],[10.43,-0.76,7],[10.48,-0.85,6.5],[10.53,-0.8,8],[10.58,-0.9,7],[10.63,-0.84,6],[10.68,-0.92,7.5],[10.73,-0.86,6.5],[10.78,-0.95,7],
  [10.21,-0.95,6.5],[10.26,-1.02,8],[10.31,-0.98,7],[10.36,-1.06,6],[10.41,-1.0,8.5],[10.46,-1.09,7],[10.51,-1.04,6],[10.56,-1.12,7.5],[10.61,-1.06,6.5],[10.66,-1.14,7],[10.71,-1.08,6],[10.76,-1.16,6.5],
  [10.22,-1.18,7],[10.27,-1.25,6],[10.32,-1.2,8],[10.37,-1.3,6.5],[10.42,-1.24,7],[10.47,-1.33,6],[10.52,-1.27,7.5],[10.57,-1.36,6.5],[10.62,-1.3,7],[10.67,-1.38,6],[10.72,-1.32,7],[10.77,-1.4,6],
  [10.21,-1.42,6.5],[10.26,-1.5,7.5],[10.31,-1.45,6],[10.36,-1.55,7],[10.41,-1.48,6.5],[10.46,-1.58,7],[10.51,-1.52,6],[10.56,-1.62,6.5],[10.61,-1.55,7],[10.66,-1.65,6],[10.71,-1.58,6.5],
  [10.23,-1.7,7],[10.28,-1.78,6],[10.33,-1.72,6.5],[10.38,-1.85,7],[10.44,-1.8,6],[10.5,-1.9,6.5],[10.56,-1.82,7],[10.62,-1.95,6],[10.7,-1.86,6.5],[10.78,-1.98,6],
  [10.24,-2.0,6.5],[10.3,-2.1,7],[10.36,-2.2,6],[10.42,-2.05,6.5],[10.5,-2.3,6],[10.58,-2.15,7],[10.66,-2.4,6],[10.74,-2.2,6.5],[10.27,-2.55,6],[10.4,-2.7,6.5],[10.55,-2.8,6],[10.7,-2.6,5.5],[10.35,-3.0,6],[10.62,-3.2,5.5],
  [10.25,-0.2,7],[10.38,-0.3,8.5],[10.5,-0.38,6],[10.6,-0.45,7],[10.3,-0.08,6],
  [10.245,-0.62,7.5],[10.285,-1.1,6.5],[10.325,-0.85,7],[10.345,-1.4,6],[10.395,-0.66,7.5],[10.415,-1.15,6.5],[10.455,-0.92,7],[10.475,-1.45,6],[10.525,-0.68,6.5],[10.545,-1.2,7],[10.585,-0.98,6],[10.605,-1.7,6.5],[10.645,-0.75,7],[10.685,-1.22,6],[10.725,-0.98,6.5],[10.765,-1.52,6],[10.3,-1.95,6.5],[10.48,-2.12,6],[10.65,-2.05,6.5],[10.52,-0.45,7],
  [10.235,-0.33,7],[10.315,-0.55,6.5],[10.365,-0.9,7.5],[10.435,-0.44,6],[10.465,-0.7,7],[10.505,-1.16,6.5],[10.535,-0.93,6],[10.575,-0.5,7],[10.615,-1.22,6],[10.635,-0.58,6.5],[10.675,-1.48,6],[10.705,-0.82,7],[10.745,-1.25,6],[10.775,-0.6,6.5],
  [10.405,-1.6,6],[10.555,-1.42,6.5],[10.495,-1.75,6],[10.695,-1.75,6],[10.375,-1.95,6.5],[10.585,-2.3,6],[10.265,-2.28,6.5],[10.445,-2.45,6],
  [10.82,-0.68,6.5],[10.86,-0.8,7],[10.9,-0.72,6],[10.95,-0.86,8],[11.0,-0.78,6.5],[11.05,-0.9,7],[11.1,-0.82,5.5],[11.15,-0.95,6],[11.2,-0.86,7.5],[11.25,-0.98,6],[11.3,-0.9,5.5],[11.35,-1.0,7],[11.4,-0.88,6],[11.45,-1.05,5.5],[11.5,-0.95,6.5],[11.55,-1.08,6],[11.6,-1.0,5.5],[11.65,-1.12,6],[11.7,-1.05,5.3],[11.75,-0.85,6.5],[11.8,-1.15,5.5],
  [10.84,-1.05,6],[10.88,-1.15,7],[10.93,-1.1,6.5],[10.98,-1.22,6],[11.03,-1.14,7.5],[11.08,-1.26,6],[11.13,-1.18,5.5],[11.18,-1.3,6.5],[11.23,-1.2,6],[11.28,-1.32,5.5],[11.33,-1.24,7],[11.38,-1.36,6],[11.43,-1.28,5.5],[11.48,-1.38,6.5],[11.53,-1.3,5.5],[11.58,-1.42,6],[11.63,-1.34,5.5],[11.68,-1.44,6],[11.73,-1.36,5.3],[11.78,-1.46,6],[11.83,-1.4,5.5],[11.88,-1.48,5.3],[11.93,-1.45,5.5],
  [10.83,-1.4,6.5],[10.9,-1.5,6],[10.97,-1.45,7],[11.04,-1.58,6],[11.11,-1.52,5.5],[11.18,-1.62,6.5],[11.25,-1.55,5.5],[11.32,-1.66,6],[11.4,-1.6,5.5],[11.48,-1.7,6],[11.56,-1.64,5.5],[11.64,-1.72,6],[11.72,-1.66,5.3],[11.8,-1.75,5.5],[11.87,-1.7,5.3],[11.92,-1.82,5.5],[11.95,-1.94,5.3],
  [10.86,-1.8,6],[10.95,-1.9,6.5],[11.05,-1.85,5.5],[11.15,-2.0,6],[11.25,-1.92,5.5],[11.35,-2.05,6],[11.45,-1.95,5.5],[11.55,-2.1,5.3],[11.68,-1.98,5.5],[11.85,-1.9,5.3],
  [10.9,-2.2,6],[11.1,-2.3,5.5],[11.4,-2.25,5.3],[11.6,-2.2,5.5],[11.3,-2.5,5.3],[11.7,-2.45,5.5],[11.05,-2.6,6],[11.15,-3.1,5.5],[11.4,-2.75,5.3],[10.95,-2.9,6],
  [11.1,-0.62,7],[11.35,-0.58,6.5],[11.55,-0.72,6],[10.95,-0.55,7.5],
  [10.88,-0.95,6],[10.92,-1.3,6.5],[11.02,-1.02,6],[11.07,-1.4,5.5],[11.12,-1.05,6.5],[11.22,-1.42,5.5],[11.28,-1.12,6],[11.38,-1.5,5.5],[11.42,-1.15,6],[11.52,-1.52,5.5],[11.62,-1.22,5.3],[11.75,-1.55,5.5],[11.82,-1.25,5.3],[11.9,-1.6,5.5],[11.02,-1.7,6],[11.22,-1.8,5.5],[11.5,-1.85,5.3],[11.78,-1.85,5.5],[10.98,-2.1,6],[11.3,-2.2,5.5],
  [10.805,-1.1,6],[10.835,-0.9,6.5],[10.865,-1.3,6],[10.875,-0.62,7],[10.915,-1.62,6],[10.945,-1.0,6.5],[10.985,-1.33,5.5],[11.015,-0.88,6],[11.045,-1.7,5.5],[11.075,-1.1,6],[11.095,-0.7,6.5],[11.135,-1.45,5.5],[11.165,-0.85,6],[11.195,-1.75,5.5],[11.215,-1.08,6],[11.265,-0.75,6.5],[11.295,-1.45,5.5],[11.325,-0.95,6],[11.365,-1.8,5.5],[11.395,-1.25,6],[11.435,-0.8,6.5],[11.465,-1.55,5.5],[11.505,-1.12,6],[11.545,-0.88,5.5],[11.575,-1.75,5.3],[11.615,-1.3,6],[11.655,-0.95,5.5],[11.685,-1.6,5.3],[11.715,-1.2,5.5],[11.745,-0.98,6],[11.775,-1.7,5.3],[11.805,-1.33,5.5],[11.845,-1.05,5.3],[11.865,-1.58,5.5],[11.905,-1.3,5.3],[11.935,-1.72,5.5],[11.96,-1.55,5.3],
  [10.825,-2.0,6],[11.02,-2.35,5.5],[11.25,-2.2,5.5],[11.5,-2.35,5.3],[10.75,-2.8,5.5],[11.6,-2.9,5.3],
  [9.66,-2.05,7],[9.69,-2.15,8],[9.72,-2.1,6.5],[9.75,-2.25,7],[9.78,-2.18,8.5],[9.82,-2.3,6],[9.86,-2.12,7],[9.9,-2.35,6.5],[9.95,-2.2,7.5],[10.0,-2.4,6],[10.06,-2.15,7],[10.12,-2.3,6.5],[10.18,-2.05,7],
  [9.65,-2.45,8],[9.68,-2.6,7],[9.71,-2.52,6.5],[9.74,-2.7,7.5],[9.78,-2.58,6],[9.82,-2.75,7],[9.87,-2.55,6.5],[9.92,-2.8,6],[9.98,-2.62,7],[10.05,-2.9,6.5],[10.12,-2.7,6],
  [9.72,-2.25,8],[9.81,-2.05,7],[9.93,-2.1,7.5],[10.08,-2.48,6],[9.76,-2.85,7],[9.98,-2.95,6.5],[9.7,-3.3,7],[9.86,-3.45,6],
  [9.675,-2.35,8],[9.705,-2.75,7],[9.735,-2.4,7.5],[9.765,-2.05,6.5],[9.795,-2.45,7],[9.835,-2.15,6],[9.875,-2.7,7],[9.915,-2.5,6.5],[9.955,-2.4,6],[10.015,-2.25,7],[10.075,-2.1,6.5],[10.135,-2.5,6],[10.185,-2.8,6.5],
  [9.66,-2.95,7],[9.69,-3.1,6.5],[9.72,-3.02,7],[9.76,-3.2,6],[9.8,-3.05,7.5],[9.85,-3.25,6],[9.9,-3.1,6.5],[9.96,-3.3,7],[10.03,-3.15,6],[10.1,-3.35,6.5],[10.2,-3.05,7],[10.3,-3.2,6],
  [9.745,-3.25,6],[9.815,-3.4,6.5],[9.955,-3.0,6],[10.065,-3.5,6.5],[10.25,-3.4,6],
  [9.66,-3.45,6.5],[9.7,-3.6,7],[9.74,-3.5,6],[9.78,-3.7,7.5],[9.83,-3.55,6],[9.88,-3.8,6.5],[9.94,-3.62,7],[10.02,-3.75,6],[10.15,-3.55,6.5],[9.695,-3.85,7],
  [9.6,-4,7],[9.63,-4,8],[9.66,-4,9],[9.68,-4,11],[9.7,-4,12],[9.72,-4,10],[9.74,-4,8],[9.76,-4,7.5],[9.8,-4,7],[9.89,-4,6.5],[9.94,-4,7],[9.96,-4,8],[9.99,-4,7],[10.16,-4,6]
];

const xTicks = [8, 9, 10, 11, 12];
const yExponents = [0, -1, -2, -3, -4];
const zBounds = [5, 6, 7, 8, 10, 12];
const legendItems = [
  { mass: "7000", series: "low" },
  { mass: "900", series: "mid" },
  { mass: "100", series: "high" }
];

const W = 830, H = 1192;
const left = 124, right = 822;
const panels = [{ top: 11, bottom: 536 }, { top: 583, bottom: 1108 }];

const svg = d3.select("#chart").append("svg")
  .attr("width", W).attr("height", H)
  .attr("font-family", "'Liberation Serif', 'DejaVu Serif', serif");

const x = d3.scaleLinear().domain([7.637, 12.161]).range([left, right]);
const zColor = d3.scaleSequentialLog(d3.interpolateViridis).domain([5, 12]);
const seriesColor = { low: "#8a8a8a", mid: "#0000ff", high: "#ff0000" };

const majorY = yExponents.map(e => Math.pow(10, e));
const minorY = [];
for (let e = -5; e <= 0; e++) for (let m = 2; m <= 9; m++) minorY.push(m * Math.pow(10, e));

function makeY(p) {
  return d3.scaleLog()
    .domain([Math.pow(10, -4.088), Math.pow(10, 0.112)])
    .range([p.bottom, p.top]);
}

function drawFrame(p, y) {
  const g = svg.append("g");
  const clean = sel => {
    sel.select(".domain").remove();
    sel.selectAll(".tick text").remove();
    sel.selectAll(".tick line").attr("stroke", "#000").attr("stroke-width", 1.2);
  };
  const inDomain = minorY.filter(v => v > y.domain()[0] && v < y.domain()[1]);

  g.append("g").attr("transform", `translate(0,${p.bottom})`)
    .call(d3.axisBottom(x).tickValues(xTicks).tickSize(-10)).call(clean);
  g.append("g").attr("transform", `translate(0,${p.top})`)
    .call(d3.axisTop(x).tickValues(xTicks).tickSize(-10)).call(clean);
  g.append("g").attr("transform", `translate(${left},0)`)
    .call(d3.axisLeft(y).tickValues(majorY).tickSize(-10)).call(clean);
  g.append("g").attr("transform", `translate(${left},0)`)
    .call(d3.axisLeft(y).tickValues(inDomain).tickSize(-5)).call(clean);
  g.append("g").attr("transform", `translate(${right},0)`)
    .call(d3.axisRight(y).tickValues(majorY).tickSize(-10)).call(clean);
  g.append("g").attr("transform", `translate(${right},0)`)
    .call(d3.axisRight(y).tickValues(inDomain).tickSize(-5)).call(clean);

  g.append("rect")
    .attr("x", left).attr("y", p.top)
    .attr("width", right - left).attr("height", p.bottom - p.top)
    .attr("fill", "none").attr("stroke", "#000").attr("stroke-width", 1.5);

  // x tick labels
  g.selectAll("text.xt").data(xTicks).join("text")
    .attr("class", "xt")
    .attr("x", d => x(d)).attr("y", p.bottom + 35)
    .attr("text-anchor", "middle").attr("font-size", 32)
    .text(d => d);

  // y tick labels 10^e
  yExponents.forEach(e => {
    const t = g.append("text")
      .attr("x", left - 7).attr("y", y(Math.pow(10, e)) + 11)
      .attr("text-anchor", "end").attr("font-size", 32);
    t.append("tspan").text("10");
    t.append("tspan").attr("font-size", 22).attr("dy", -13)
      .text(e === 0 ? "0" : "\u2212" + Math.abs(e));
  });

  // y label
  const cy = (p.top + p.bottom) / 2;
  const yl = g.append("text")
    .attr("transform", `translate(34,${cy}) rotate(-90)`)
    .attr("text-anchor", "middle").attr("font-size", 33);
  yl.append("tspan").attr("font-style", "italic").text("f");
  yl.append("tspan").attr("font-size", 23).attr("dy", 6).text("esc");
}

// clip paths
panels.forEach((p, i) => {
  svg.append("clipPath").attr("id", "clip" + i)
    .append("rect").attr("x", left).attr("y", p.top)
    .attr("width", right - left).attr("height", p.bottom - p.top);
});

// ---- top panel: coloured by redshift
const yTop = makeY(panels[0]);
const allPoints = lowRes.concat(midRes, highRes);
svg.append("g").attr("clip-path", "url(#clip0)")
  .selectAll("circle").data(allPoints).join("circle")
    .attr("cx", d => x(d[0]))
    .attr("cy", d => yTop(Math.pow(10, d[1])))
    .attr("r", 2.1)
    .attr("fill", d => zColor(d[2]));
drawFrame(panels[0], yTop);

// colour bar
const cbx = d3.scaleLog().domain([5, 12]).range([546, 796]);
const cbTop = 452.5, cbH = 12.5;
const grad = svg.append("defs").append("linearGradient").attr("id", "viridisBar");
d3.range(0, 21).forEach(i => {
  const z = 5 * Math.pow(12 / 5, i / 20);
  grad.append("stop").attr("offset", (i / 20 * 100) + "%").attr("stop-color", zColor(z));
});
svg.append("rect")
  .attr("x", cbx(5)).attr("y", cbTop)
  .attr("width", cbx(12) - cbx(5)).attr("height", cbH)
  .attr("fill", "url(#viridisBar)")
  .attr("stroke", "#000").attr("stroke-width", 1.4);
svg.selectAll("line.cbdiv").data(zBounds.slice(1, -1)).join("line")
  .attr("class", "cbdiv")
  .attr("x1", d => cbx(d)).attr("x2", d => cbx(d))
  .attr("y1", cbTop).attr("y2", cbTop + cbH)
  .attr("stroke", "#000").attr("stroke-width", 1.4);
svg.selectAll("text.cbl").data(zBounds).join("text")
  .attr("class", "cbl")
  .attr("x", d => cbx(d)).attr("y", 490)
  .attr("text-anchor", "middle").attr("font-size", 27)
  .text(d => d);
svg.append("text")
  .attr("x", (cbx(5) + cbx(12)) / 2).attr("y", 518)
  .attr("text-anchor", "middle").attr("font-size", 27)
  .text("redshift");

// ---- bottom panel: coloured by resolution
const yBot = makeY(panels[1]);
const gb = svg.append("g").attr("clip-path", "url(#clip1)");
gb.selectAll("path.low").data(lowRes).join("path")
  .attr("class", "low")
  .attr("d", "M-1.6,0H1.6M0,-1.6V1.6")
  .attr("transform", d => `translate(${x(d[0])},${yBot(Math.pow(10, d[1]))})`)
  .attr("stroke", seriesColor.low).attr("stroke-width", 0.8).attr("fill", "none");
gb.selectAll("circle.mid").data(midRes).join("circle")
  .attr("class", "mid")
  .attr("cx", d => x(d[0])).attr("cy", d => yBot(Math.pow(10, d[1])))
  .attr("r", 1.7).attr("fill", seriesColor.mid);
gb.selectAll("circle.high").data(highRes).join("circle")
  .attr("class", "high")
  .attr("cx", d => x(d[0])).attr("cy", d => yBot(Math.pow(10, d[1])))
  .attr("r", 1.6).attr("fill", seriesColor.high);
drawFrame(panels[1], yBot);

// x axis label
const xl = svg.append("text")
  .attr("x", (left + right) / 2).attr("y", 1177)
  .attr("text-anchor", "middle").attr("font-size", 32);
xl.append("tspan").text("log ");
xl.append("tspan").attr("font-style", "italic").text("M");
xl.append("tspan").attr("font-size", 22).attr("dy", 7).text("vir");
xl.append("tspan").attr("dy", -7).text(" [");
xl.append("tspan").attr("font-style", "italic").text("M");
xl.append("tspan").attr("font-size", 22).attr("dy", 7).text("\u2299");
xl.append("tspan").attr("dy", -7).text("]");

// legend
const lg = svg.append("g");
legendItems.forEach((item, i) => {
  const cy = 993 + i * 38.5;
  if (item.series === "low") {
    lg.append("path").attr("d", "M-6.5,0H6.5M0,-6.5V6.5")
      .attr("transform", `translate(591,${cy})`)
      .attr("stroke", seriesColor.low).attr("stroke-width", 1.6);
  } else {
    lg.append("circle").attr("cx", 591).attr("cy", cy).attr("r", 6)
      .attr("fill", seriesColor[item.series]);
  }
  const t = lg.append("text").attr("x", 613).attr("y", cy + 12).attr("font-size", 30);
  t.append("tspan").attr("font-style", "italic").text("m");
  t.append("tspan").attr("font-style", "italic").attr("font-size", 21).attr("dy", 6).text("b");
  t.append("tspan").attr("dy", -6).text(" \u223C " + item.mass + " ");
  t.append("tspan").attr("font-style", "italic").text("M");
  t.append("tspan").attr("font-size", 21).attr("dy", 6).text("\u2299");
});
</script>
</body>
</html>
